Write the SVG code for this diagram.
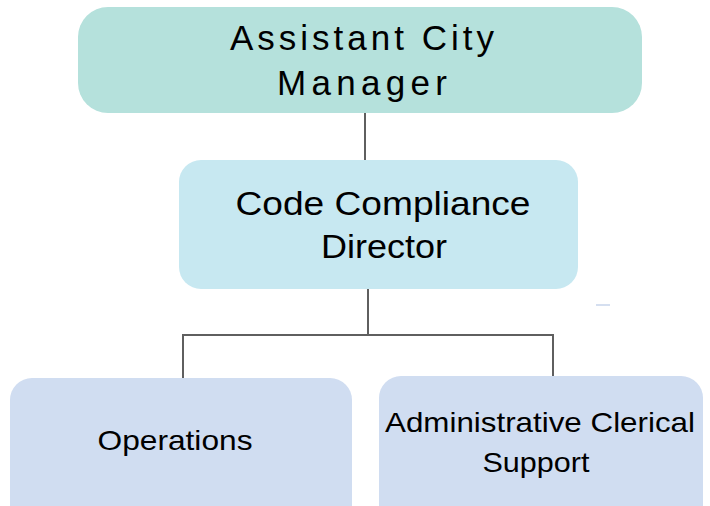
<svg xmlns="http://www.w3.org/2000/svg" width="710" height="506" viewBox="0 0 710 506">
<style>
text{font-family:"Liberation Sans","DejaVu Sans",sans-serif;fill:#000;text-anchor:middle}
.c{stroke:#5f5f5f;stroke-width:2;fill:none}
</style>
<rect width="710" height="506" fill="#fff"/>
<g id="connectors">
<line class="c" x1="365" y1="113" x2="365" y2="160"/>
<polyline class="c" points="368,289 368,335 183,335 183,378"/>
<polyline class="c" points="368,335 553,335 553,377"/>
<line x1="596" y1="305" x2="610" y2="305" stroke="#d5dff0" stroke-width="2"/>
</g>
<g id="n1">
<rect x="78" y="7" width="564" height="106" rx="30" fill="#b5e1dc"/>
<text x="362" y="50" font-size="35" textLength="264" lengthAdjust="spacing">Assistant City</text>
<text x="362" y="95" font-size="35" textLength="170" lengthAdjust="spacing">Manager</text>
</g>
<g id="n2">
<rect x="179" y="160" width="399" height="129" rx="22" fill="#c7e8f1"/>
<text x="383" y="215" font-size="34" textLength="295" lengthAdjust="spacingAndGlyphs">Code Compliance</text>
<text x="384" y="258" font-size="34" textLength="126" lengthAdjust="spacingAndGlyphs">Director</text>
</g>
<g id="n3">
<rect x="10" y="378" width="342" height="150" rx="22" fill="#d0ddf1"/>
<text x="175" y="450" font-size="28" textLength="155" lengthAdjust="spacingAndGlyphs">Operations</text>
</g>
<g id="n4">
<rect x="379" y="376" width="324" height="152" rx="22" fill="#d0ddf1"/>
<text x="540" y="432" font-size="28" textLength="310" lengthAdjust="spacingAndGlyphs">Administrative Clerical</text>
<text x="536" y="472" font-size="28" textLength="107" lengthAdjust="spacingAndGlyphs">Support</text>
</g>
</svg>
